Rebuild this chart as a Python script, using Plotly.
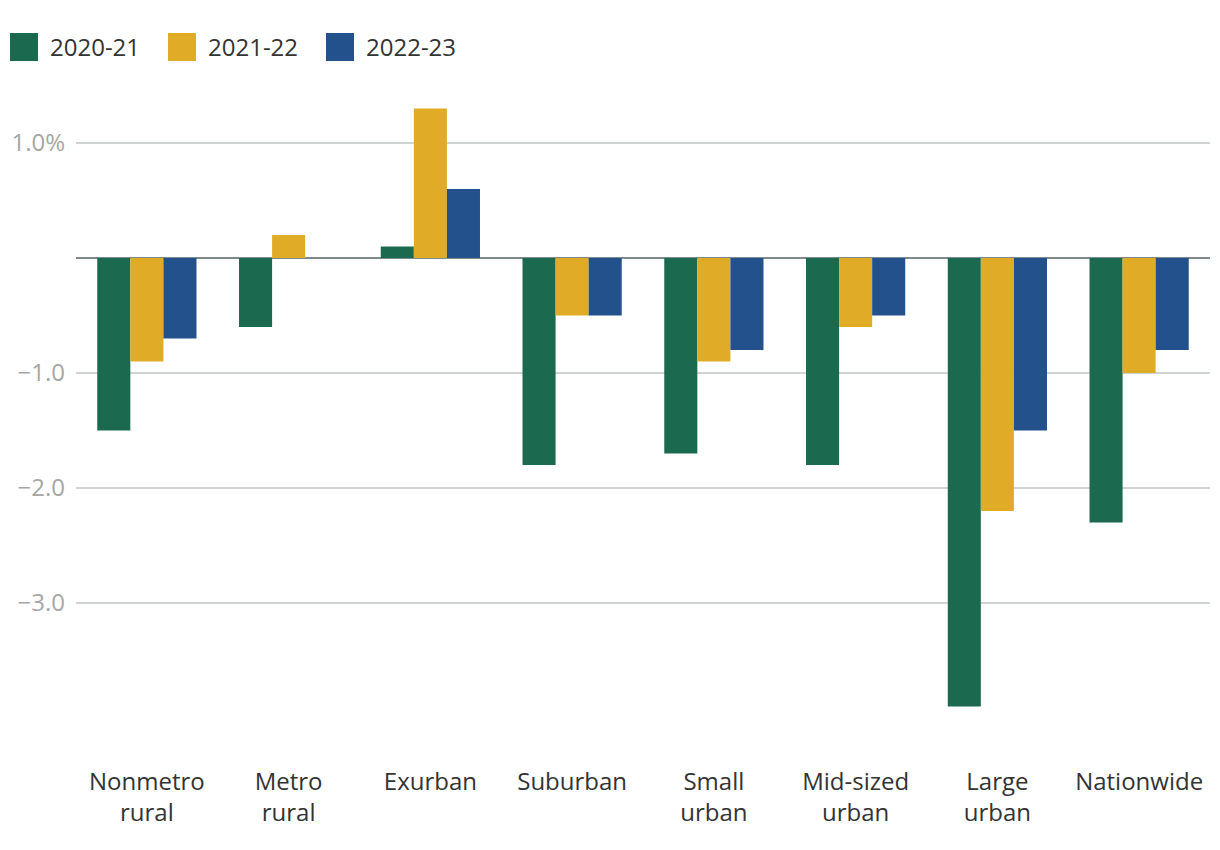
import plotly.graph_objects as go

categories = ["Nonmetro<br>rural", "Metro<br>rural", "Exurban", "Suburban",
              "Small<br>urban", "Mid-sized<br>urban", "Large<br>urban", "Nationwide"]
s2020_21 = [-1.5, -0.6, 0.1, -1.8, -1.7, -1.8, -3.9, -2.3]
s2021_22 = [-0.9, 0.2, 1.3, -0.5, -0.9, -0.6, -2.2, -1.0]
s2022_23 = [-0.7, 0.0, 0.6, -0.5, -0.8, -0.5, -1.5, -0.8]
series_names = ["2020-21", "2021-22", "2022-23"]
colors = ["#1b6a50", "#e0ac28", "#22518c"]
tick_vals = [1, -1, -2, -3]
tick_text = ["1.0%", "\u22121.0", "\u22122.0", "\u22123.0"]

W, H = 1220, 850
ML, MR, MT, MB = 76, 10, 90, 95
PW, PH = W - ML - MR, H - MT - MB

fig = go.Figure()
for name, vals, col in zip(series_names, [s2020_21, s2021_22, s2022_23], colors):
    fig.add_trace(go.Bar(x=categories, y=vals, name=name,
                         marker=dict(color=col, line=dict(width=0)), showlegend=False))

# custom legend (large square swatches)
leg_x = [10, 168, 326]
sw = 28
leg_top = 33
for lx, name, col in zip(leg_x, series_names, colors):
    fig.add_shape(type="rect", xref="paper", yref="paper",
                  x0=(lx - ML) / PW, x1=(lx + sw - ML) / PW,
                  y0=(MT + PH - (leg_top + sw)) / PH, y1=(MT + PH - leg_top) / PH,
                  fillcolor=col, line=dict(width=0), layer="above")
    fig.add_annotation(xref="paper", yref="paper",
                       x=(lx + sw + 10 - ML) / PW, y=(MT + PH - (leg_top + sw / 2)) / PH,
                       text=name, showarrow=False, xanchor="left", yanchor="middle",
                       font=dict(size=24, color="#333333"))

fig.update_layout(
    width=W, height=H,
    margin=dict(l=ML, r=MR, t=MT, b=MB),
    paper_bgcolor="white", plot_bgcolor="white",
    barmode="group", bargap=0.3, bargroupgap=0,
    font=dict(family="Open Sans", size=24, color="#333333"),
    showlegend=False,
    xaxis=dict(showgrid=False, showline=False, ticks="", ticklabelstandoff=10,
               tickfont=dict(size=24, color="#333333")),
    yaxis=dict(range=[-4.322, 1.461], tickvals=tick_vals, ticktext=tick_text,
               showgrid=True, gridcolor="#d0d3d3", gridwidth=1.5,
               zeroline=True, zerolinecolor="#7f8a8f", zerolinewidth=2,
               showline=False, ticks="", ticklabelstandoff=10,
               tickfont=dict(size=24, color="#a6a6a6")),
)
fig.write_html("out.html")
